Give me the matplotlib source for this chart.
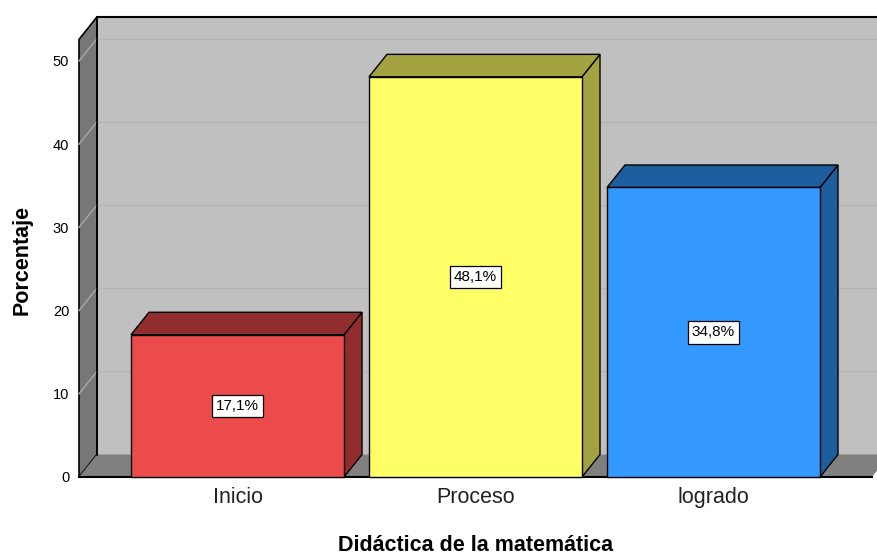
import matplotlib
matplotlib.use('Agg')
import matplotlib.pyplot as plt
from matplotlib.patches import Rectangle, Polygon

plt.rcParams['font.family'] = ['Liberation Sans', 'DejaVu Sans']

# datos
categorias = ['Inicio', 'Proceso', 'logrado']
porcentajes = [17.1, 48.1, 34.8]
etiquetas = ['17,1%', '48,1%', '34,8%']
colores_frente = ['#ec4b4b', '#ffff66', '#3399ff']
colores_lado = ['#922d2d', '#a3a240', '#1f5e9e']
colores_tapa = ['#922d2d', '#a3a240', '#1f5e9e']
yticks = [0, 10, 20, 30, 40, 50]

fig = plt.figure(figsize=(8.77, 5.54), dpi=100)
ax = fig.add_axes([0.0901, 0.139, 0.9042, 0.7509])
x0, x1 = -0.666, 2.666
ax.set_xlim(x0, x1)
ax.set_ylim(0, 50)

# profundidad 3D (en unidades de datos)
dx, dy = 0.0756, 2.7
techo = 52.6
ancho = 0.895

# pared del fondo
ax.add_patch(Rectangle((x0 + dx, dy), x1 - x0 + 0.2, techo, facecolor='#c0c0c0',
                       edgecolor='none', clip_on=False, zorder=1))
for v in yticks[1:]:
    ax.plot([x0 + dx, x1 + dx + 0.2], [v + dy, v + dy], color='#b4b4b4', lw=1.0,
            clip_on=False, zorder=1.5)
# pared izquierda
ax.add_patch(Polygon([(x0, 0), (x0 + dx, dy), (x0 + dx, techo + dy), (x0, techo)],
                     closed=True, facecolor='#777777', edgecolor='black', lw=1.2,
                     clip_on=False, zorder=2))
for v in yticks[1:]:
    ax.plot([x0, x0 + dx], [v, v + dy], color='#a8a8a8', lw=1.0, clip_on=False, zorder=2.5)
# piso
ax.add_patch(Polygon([(x0, 0), (x1, 0), (x1 + dx, dy), (x0 + dx, dy)], closed=True,
                     facecolor='#808080', edgecolor='none', clip_on=False, zorder=2))
ax.plot([x0 + dx, x0 + dx], [dy, techo + dy], color='black', lw=1.2, clip_on=False, zorder=3)
ax.plot([x0 + dx, x1 + 0.3], [techo + dy, techo + dy], color='black', lw=1.5, clip_on=False, zorder=3)
ax.plot([x0, x1], [0, 0], color='black', lw=1.5, clip_on=False, zorder=3)

# barras
for i, (val, cf, cl, ct, lab) in enumerate(zip(porcentajes, colores_frente, colores_lado,
                                               colores_tapa, etiquetas)):
    a = i - ancho / 2
    b = i + ancho / 2
    ax.add_patch(Polygon([(b, 0), (b + dx, dy), (b + dx, val + dy), (b, val)], closed=True,
                         facecolor=cl, edgecolor='black', lw=1.0, zorder=4, clip_on=False))
    ax.add_patch(Polygon([(a, val), (b, val), (b + dx, val + dy), (a + dx, val + dy)],
                         closed=True, facecolor=ct, edgecolor='black', lw=1.0, zorder=4,
                         clip_on=False))
    ax.add_patch(Rectangle((a, 0), ancho, val, facecolor=cf, edgecolor='black', lw=1.0,
                           zorder=5, clip_on=False))
    ax.text(i, val / 2, lab, ha='center', va='center', fontsize=11, zorder=6,
            bbox=dict(boxstyle='square,pad=0.28', facecolor='white', edgecolor='black', lw=0.9))

for s in ax.spines.values():
    s.set_visible(False)
ax.patch.set_visible(False)
ax.set_yticks(yticks)
ax.set_yticklabels([str(v) for v in yticks], fontsize=10.5)
ax.set_xticks(range(len(categorias)))
ax.set_xticklabels(categorias, fontsize=15.5, color='#222222')
ax.tick_params(axis='y', length=0, pad=7)
ax.tick_params(axis='x', length=0, pad=7)

fig.text(0.025, 0.531, 'Porcentaje', rotation=90, ha='center', va='center',
         fontsize=15.5, fontweight='bold')
fig.text(0.542, 0.016, 'Didáctica de la matemática', ha='center', va='center',
         fontsize=15.5, fontweight='bold')

fig.savefig('out.png', dpi=100)
